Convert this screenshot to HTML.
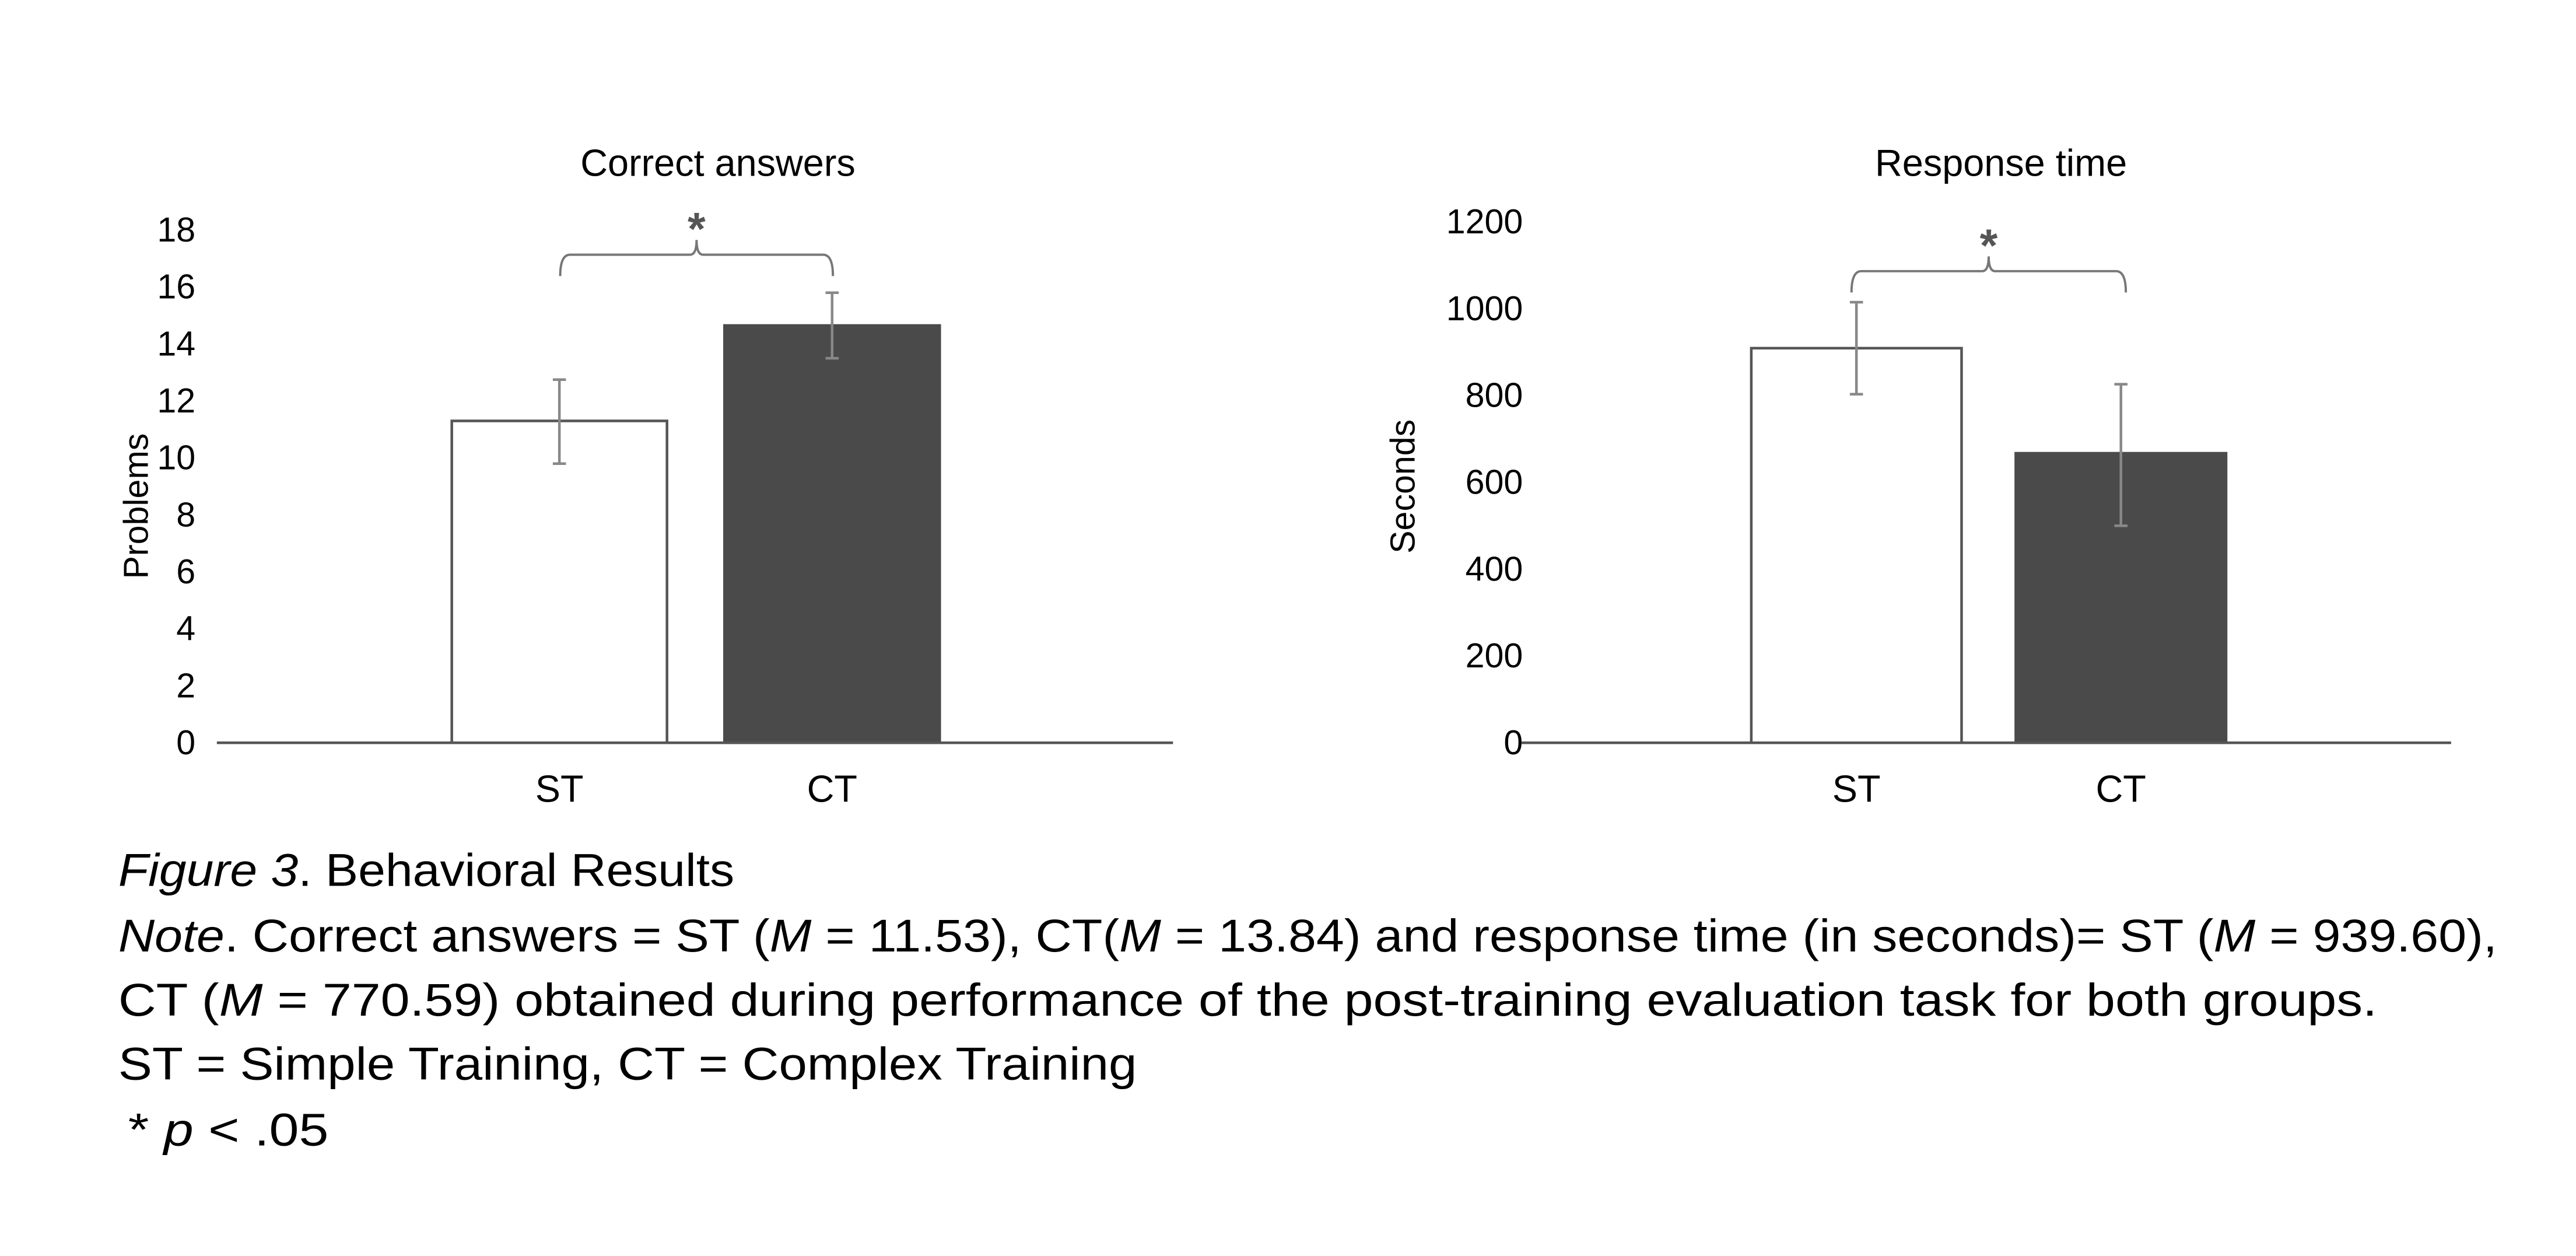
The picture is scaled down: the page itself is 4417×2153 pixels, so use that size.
<!DOCTYPE html>
<html><head><meta charset="utf-8"><style>
html,body{margin:0;padding:0;background:#fff;}
svg{display:block;}
text{font-family:"Liberation Sans",sans-serif;fill:#000;}
</style></head><body>
<svg id="fig" width="4417" height="2153" viewBox="0 0 1568 764.3" xmlns="http://www.w3.org/2000/svg">
<rect width="1568" height="764.3" fill="#fff"/>
<g id="c1"></g>
<g id="c2"></g>
<g font-size="28">
<text x="72" y="539" textLength="375" lengthAdjust="spacingAndGlyphs"><tspan font-style="italic">Figure 3</tspan>. Behavioral Results</text>
<text x="72" y="579" textLength="1448" lengthAdjust="spacingAndGlyphs"><tspan font-style="italic">Note</tspan>. Correct answers = ST (<tspan font-style="italic">M</tspan> = 11.53), CT(<tspan font-style="italic">M</tspan> = 13.84) and response time (in seconds)= ST (<tspan font-style="italic">M</tspan> = 939.60),</text>
<text x="72" y="618" textLength="1375" lengthAdjust="spacingAndGlyphs">CT (<tspan font-style="italic">M</tspan> = 770.59) obtained during performance of the post-training evaluation task for both groups.</text>
<text x="72" y="657" textLength="620" lengthAdjust="spacingAndGlyphs">ST = Simple Training, CT = Complex Training</text>
<text x="78" y="697" textLength="122" lengthAdjust="spacingAndGlyphs">* <tspan font-style="italic">p</tspan> &lt; .05</text>
</g>
</svg>
<script>
const categories = ["ST", "CT"];
const correctValues = [11.3, 14.65];
const correctErrHigh = [12.75, 15.8];
const correctErrLow = [9.8, 13.5];
const correctTicks = [0, 2, 4, 6, 8, 10, 12, 14, 16, 18];
const timeValues = [909, 667];
const timeErrHigh = [1015, 826];
const timeErrLow = [803, 500];
const timeTicks = [0, 200, 400, 600, 800, 1000, 1200];

const NS = "http://www.w3.org/2000/svg";
function mk(parent, tag, attrs) {
  const e = document.createElementNS(NS, tag);
  for (const k in attrs) e.setAttribute(k, attrs[k]);
  parent.appendChild(e);
  return e;
}

function drawChart(g, cfg) {
  const y = v => cfg.y0 - (v - cfg.min) / (cfg.max - cfg.min) * (cfg.y0 - cfg.y1);
  // title
  const t = mk(g, "text", {x: cfg.titleX, y: 107, "font-size": 23, "text-anchor": "middle"});
  t.textContent = cfg.title;
  
  
  // y axis title
  const yt = mk(g, "text", {x: 0, y: 0, "font-size": 21, "text-anchor": "middle", transform: `translate(${cfg.yTitleX},${cfg.yTitleY}) rotate(-90)`});
  yt.textContent = cfg.yTitle;
  
  
  // ticks
  cfg.ticks.forEach(v => {
    const tk = mk(g, "text", {x: cfg.tickX, y: y(v) + 7, "font-size": 21, "text-anchor": "end"});
    tk.textContent = String(v);
    
    
  });
  // bars
  cfg.values.forEach((v, i) => {
    const x = cfg.barX[i];
    const r = mk(g, "rect", {x: x, y: y(v), width: cfg.barW, height: cfg.y0 - y(v),
      fill: i === 0 ? "#fff" : "#4a4a4a", stroke: i === 0 ? "#555" : "#4a4a4a", "stroke-width": 1.6});
    
    
    const cx = x + cfg.barW / 2;
    const eg = mk(g, "g", {stroke: "#888", "stroke-width": 1.6});
    
    
    mk(eg, "line", {x1: cx, x2: cx, y1: y(cfg.hi[i]), y2: y(cfg.lo[i])});
    mk(eg, "line", {x1: cx - 4, x2: cx + 4, y1: y(cfg.hi[i]), y2: y(cfg.hi[i])});
    mk(eg, "line", {x1: cx - 4, x2: cx + 4, y1: y(cfg.lo[i]), y2: y(cfg.lo[i])});
    const xl = mk(g, "text", {x: cx, y: 488, "font-size": 23, "text-anchor": "middle"});
    xl.textContent = categories[i];
    
    
  });
  // axis
  const ax = mk(g, "line", {x1: cfg.axX1, x2: cfg.axX2, y1: cfg.y0, y2: cfg.y0, stroke: "#555", "stroke-width": 1.6});
  
  
  // bracket
  const b = cfg.br, m = (b.x1 + b.x2) / 2;
  const p = mk(g, "path", {d: `M${b.x1},${b.y + 13} Q${b.x1},${b.y} ${b.x1 + 6},${b.y} L${m - 4},${b.y} Q${m},${b.y} ${m},${b.y - 9} Q${m},${b.y} ${m + 4},${b.y} L${b.x2 - 6},${b.y} Q${b.x2},${b.y} ${b.x2},${b.y + 13}`,
    fill: "none", stroke: "#777", "stroke-width": 1.4});
  
  
  const st = mk(g, "text", {x: m, y: b.y - 6, "font-size": 28, "font-weight": "bold", "text-anchor": "middle", fill: "#555", style: "fill:#555"});
  st.textContent = "*";
  
  
}

drawChart(document.getElementById("c1"), {
  title: "Correct answers", titleX: 437, yTitle: "Problems", yTitleX: 90, yTitleY: 308,
  ticks: correctTicks, tickX: 119, min: 0, max: 18, y0: 452, y1: 140,
  values: correctValues, hi: correctErrHigh, lo: correctErrLow,
  barX: [275, 441], barW: 131, axX1: 132, axX2: 714,
  br: {x1: 341, x2: 507, y: 155}
});
drawChart(document.getElementById("c2"), {
  title: "Response time", titleX: 1218, yTitle: "Seconds", yTitleX: 861, yTitleY: 296,
  ticks: timeTicks, tickX: 927, min: 0, max: 1200, y0: 452, y1: 135,
  values: timeValues, hi: timeErrHigh, lo: timeErrLow,
  barX: [1066, 1227], barW: 128, axX1: 926, axX2: 1492,
  br: {x1: 1127, x2: 1294, y: 165}
});
</script>
</body></html>
